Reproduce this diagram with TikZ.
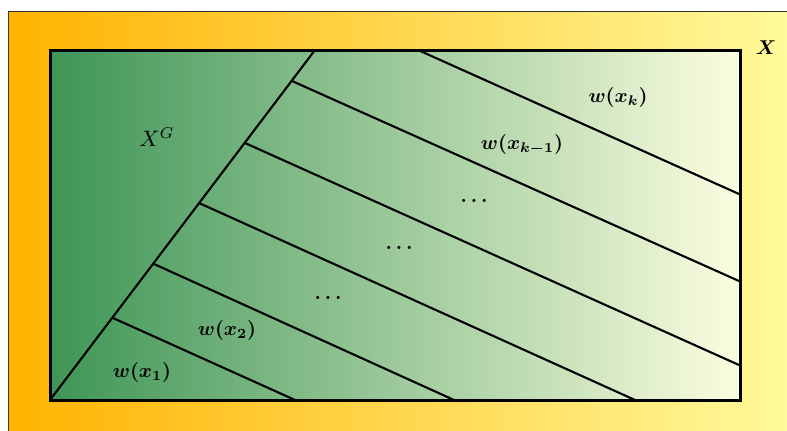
\documentclass[tikz,border=0pt]{standalone}
\usepackage{amsmath,bm}

\definecolor{outerleft}{HTML}{FFB300}
\definecolor{outerright}{HTML}{FFFB9E}
\definecolor{innerleft}{HTML}{3E9556}
\definecolor{innerright}{HTML}{FBFDE0}

\tikzstyle{outer} = [draw=black!80, line width=0.5pt, left color=outerleft, right color=outerright]
\tikzstyle{inner} = [draw=black, line width=1.5pt, left color=innerleft, right color=innerright]
\tikzstyle{line} = [draw, line width=1.05pt]
\tikzstyle{weight} = [inner sep=0pt, font=\boldmath]

\begin{document}
\begin{tikzpicture}[x=0.5pt,y=-0.5pt]
\clip (0,0) rectangle (787,430);

% Outer set X
\path[outer] (8,11) rectangle (800,445);

% Inner rectangle
\coordinate (SW) at (50,400);
\coordinate (NE) at (740,50);
\path[inner] (SW) rectangle (NE);

% Boundary of X^G
\coordinate (G0) at (50,400);
\coordinate (G6) at (315,50);
\path[line] (G0) -- (G6);

% Start points on the boundary
\coordinate (S1) at (113,318);
\coordinate (S2) at (154,264);
\coordinate (S3) at (199,203);
\coordinate (S4) at (245,143);
\coordinate (S5) at (292,81);
\coordinate (S6) at (418,50);

% End points on the bottom and right edge
\coordinate (E1) at (295,400);
\coordinate (E2) at (454,400);
\coordinate (E3) at (635,400);
\coordinate (E4) at (739,365);
\coordinate (E5) at (739,281);
\coordinate (E6) at (739,194);

\foreach \i in {1,...,6}
  \path[line] (S\i) -- (E\i);

% Labels
\node[weight] (X) at (766,48) {$X$};
\node[inner sep=0pt, scale=1.12] (XG) at (157,137) {$X^G$};
\node[weight] (wk) at (618,97) {$w(x_k)$};
\node[weight] (wk1) at (522,145) {$w(x_{k-1})$};
\node[weight] (d3) at (476,201) {$\dots$};
\node[weight] (d2) at (401,248) {$\dots$};
\node[weight] (d1) at (330,298) {$\dots$};
\node[weight] (w2) at (227,330) {$w(x_2)$};
\node[weight] (w1) at (142,372) {$w(x_1)$};
\end{tikzpicture}
\end{document}
